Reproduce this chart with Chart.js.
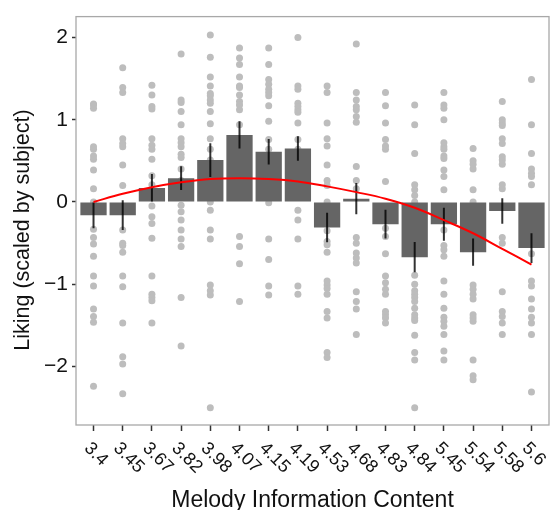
<!DOCTYPE html>
<html>
<head>
<meta charset="utf-8">
<script src="https://cdn.jsdelivr.net/npm/chart.js@4"></script>
<style>
  html, body { margin: 0; padding: 0; background: #fff; }
  #wrap { width: 553px; height: 510px; }
</style>
</head>
<body>
<div id="wrap"><canvas id="likingChart"></canvas></div>
<script>
var xLabels = ["3.4", "3.45", "3.67", "3.82", "3.98", "4.07", "4.15", "4.19",
               "4.53", "4.68", "4.83", "4.84", "5.45", "5.54", "5.58", "5.6"];
var means = [-0.16, -0.16, 0.17, 0.29, 0.51, 0.815, 0.61, 0.65,
             -0.31, 0.04, -0.27, -0.67, -0.27, -0.61, -0.11, -0.56];
var errors = [0.16, 0.18, 0.17, 0.145, 0.205, 0.165, 0.155, 0.15,
              0.18, 0.19, 0.175, 0.185, 0.2, 0.165, 0.155, 0.18];
var fitValues = [0.0, 0.10, 0.18, 0.24, 0.28, 0.29, 0.28, 0.25,
                 0.19, 0.12, 0.04, -0.07, -0.22, -0.38, -0.57, -0.76];
var yTicks = [-2, -1, 0, 1, 2];

// individual ratings per melody
var ratings = [
  [1.19, 1.18, 1.14, 0.67, 0.64, 0.56, 0.52, 0.39, 0.16, 0, -0.33, -0.43, -0.51, -0.66, -0.90, -1.02, -1.30, -1.39, -1.46, -2.24],
  [1.63, 1.39, 1.33, 0.77, 0.71, 0.67, 0.45, 0.2, -0.34, -0.50, -0.53, -0.61, -0.90, -1.03, -1.47, -1.88, -1.97, -2.33],
  [1.42, 1.30, 1.16, 1.13, 0.77, 0.69, 0.64, 0.52, 0.32, 0.21, -0.05, -0.18, -0.26, -0.44, -0.90, -1.12, -1.16, -1.20, -1.47],
  [1.80, 1.24, 1.21, 1.10, 0.94, 0.77, 0.72, 0.67, 0.58, 0.54, 0.40, 0.26, 0.08, -0.04, -0.12, -0.22, -0.34, -0.45, -0.54, -1.16, -1.75],
  [2.03, 1.76, 1.52, 1.41, 1.32, 1.29, 1.24, 1.20, 1.10, 0.95, 0.77, 0.64, 0.51, 0.34, 0.21, 0, -0.10, -0.34, -0.45, -1.01, -1.08, -1.13, -2.50],
  [1.87, 1.75, 1.67, 1.52, 1.41, 1.39, 1.30, 1.22, 1.18, 1.12, 0.94, 0.46, 0.42, -0.42, -0.54, -0.75, -1.21],
  [1.87, 1.67, 1.49, 1.43, 1.37, 1.33, 1.29, 1.17, 0.98, 0.76, 0.64, 0.21, 0.15, -0.01, -0.45, -0.70, -1.02, -1.13],
  [2.0, 1.41, 1.37, 1.20, 1.16, 1.12, 1.09, 0.96, 0.76, 0.64, 0.32, 0.16, -0.10, -0.22, -0.45, -1.02, -1.12],
  [1.41, 1.33, 0.96, 0.77, 0.68, 0.45, 0.26, 0.20, 0, -0.35, -0.48, -0.52, -0.61, -0.96, -1.01, -1.05, -1.12, -1.33, -1.41, -1.83, -1.89],
  [1.92, 1.33, 1.24, 1.16, 1.12, 1.04, 0.97, 0.43, 0.26, 0.16, -0.43, -0.50, -0.62, -0.68, -0.74, -1.09, -1.21, -1.30, -1.61],
  [1.33, 1.17, 0.96, 0.76, 0.68, 0.64, 0.25, -0.21, -0.32, -0.42, -0.63, -0.90, -0.98, -1.06, -1.12, -1.33, -1.37, -1.41, -1.47],
  [1.18, 0.94, 0.59, 0.21, 0.15, 0.08, 0, -0.06, -0.42, -0.89, -1.00, -1.08, -1.12, -1.16, -1.21, -1.29, -1.37, -1.41, -1.44, -1.62, -1.83, -1.92, -2.50],
  [1.33, 1.18, 1.14, 1.0, 0.72, 0.67, 0.64, 0.56, 0.53, 0.39, 0.31, 0.15, -0.22, -0.34, -0.53, -0.58, -0.66, -0.96, -1.12, -1.29, -1.40, -1.45, -1.51, -1.61, -1.81, -1.92],
  [0.65, 0.50, 0.46, 0.40, 0.15, 0, -0.06, -0.11, -0.16, -0.24, -1.01, -1.06, -1.12, -1.18, -1.37, -1.41, -1.45, -1.92, -2.11, -2.16],
  [1.22, 1.0, 0.96, 0.93, 0.77, 0.71, 0.55, 0.51, 0.46, 0.21, 0.16, -0.43, -0.50, -1.09, -1.33, -1.39, -1.47, -1.61],
  [1.49, 0.94, 0.59, 0.40, 0.35, 0.31, 0.21, -0.12, -0.25, -0.52, -0.63, -0.96, -1.02, -1.18, -1.30, -1.40, -1.47, -1.61, -2.31]
];

var FONT = "'Liberation Sans', Arial, Helvetica, sans-serif";

var barData = means.map(function (m, i) { return { x: i, y: m }; });
var errData = means.map(function (m, i) { return { x: i, y: [m - errors[i], m + errors[i]] }; });
var fitData = fitValues.map(function (v, i) { return { x: i, y: v }; });
var pointData = [];
ratings.forEach(function (col, i) {
  col.forEach(function (v) { pointData.push({ x: i, y: v }); });
});

// panel border, rotated x labels and axis titles
var panelAndLabels = {
  id: "panelAndLabels",
  afterDraw: function (chart) {
    var ctx = chart.ctx;
    var a = chart.chartArea;
    var xs = chart.scales.x;
    ctx.save();
    ctx.strokeStyle = "#a8a8a8";
    ctx.lineWidth = 1.3;
    ctx.strokeRect(a.left, a.top, a.right - a.left, a.bottom - a.top);

    ctx.fillStyle = "#111";
    ctx.font = "18px " + FONT;
    ctx.textAlign = "left";
    ctx.textBaseline = "alphabetic";
    xLabels.forEach(function (lab, i) {
      var px = xs.getPixelForValue(i);
      ctx.save();
      ctx.translate(px - 10, a.bottom + 24);
      ctx.rotate(Math.PI / 4);
      ctx.fillText(lab, 0, 0);
      ctx.restore();
    });

    ctx.font = "23px " + FONT;
    ctx.textAlign = "center";
    ctx.fillText("Melody Information Content", (a.left + a.right) / 2, 507);

    ctx.font = "21.5px " + FONT;
    ctx.save();
    ctx.translate(29, 230);
    ctx.rotate(-Math.PI / 2);
    ctx.fillText("Liking (scaled by subject)", 0, 0);
    ctx.restore();
    ctx.restore();
  }
};

new Chart("likingChart", {
  type: "bar",
  data: {
    datasets: [{
      type: "line",
      data: fitData,
      borderColor: "#ff0000",
      borderWidth: 2,
      pointRadius: 0,
      tension: 0.4,
      order: 1
    }, {
      type: "bar",
      data: errData,
      backgroundColor: "rgba(0,0,0,0.8)",
      grouped: false,
      maxBarThickness: 2,
      order: 2
    }, {
      type: "bar",
      data: barData,
      backgroundColor: "#656565",
      grouped: false,
      barPercentage: 0.9,
      categoryPercentage: 1,
      order: 3
    }, {
      type: "scatter",
      data: pointData,
      backgroundColor: "#bdbdbd",
      borderWidth: 0,
      pointRadius: 3.5,
      order: 4
    }]
  },
  options: {
    responsive: true,
    maintainAspectRatio: false,
    animation: false,
    layout: { padding: { top: 13, right: 3, left: 0, bottom: 0 } },
    plugins: { legend: { display: false }, tooltip: { enabled: false } },
    scales: {
      x: {
        type: "linear",
        offset: false,
        min: -0.6,
        max: 15.6,
        afterBuildTicks: function (s) {
          s.ticks = xLabels.map(function (l, i) { return { value: i }; });
        },
        afterFit: function (s) { s.height = 85; },
        ticks: { display: false },
        grid: { offset: false, drawOnChartArea: false, color: "#333", tickLength: 6, tickWidth: 1.5 },
        border: { display: false }
      },
      y: {
        min: -2.71,
        max: 2.253,
        afterBuildTicks: function (s) {
          s.ticks = yTicks.map(function (v) { return { value: v }; });
        },
        afterFit: function (s) { s.width = 76; },
        ticks: {
          color: "#111",
          padding: 4,
          font: { size: 21, family: FONT },
          callback: function (v) { return v < 0 ? "\u2212" + (-v) : String(v); }
        },
        grid: { drawOnChartArea: false, color: "#333", tickLength: 4, tickWidth: 1.5 },
        border: { display: false }
      }
    }
  },
  plugins: [panelAndLabels]
});
</script>
</body>
</html>
